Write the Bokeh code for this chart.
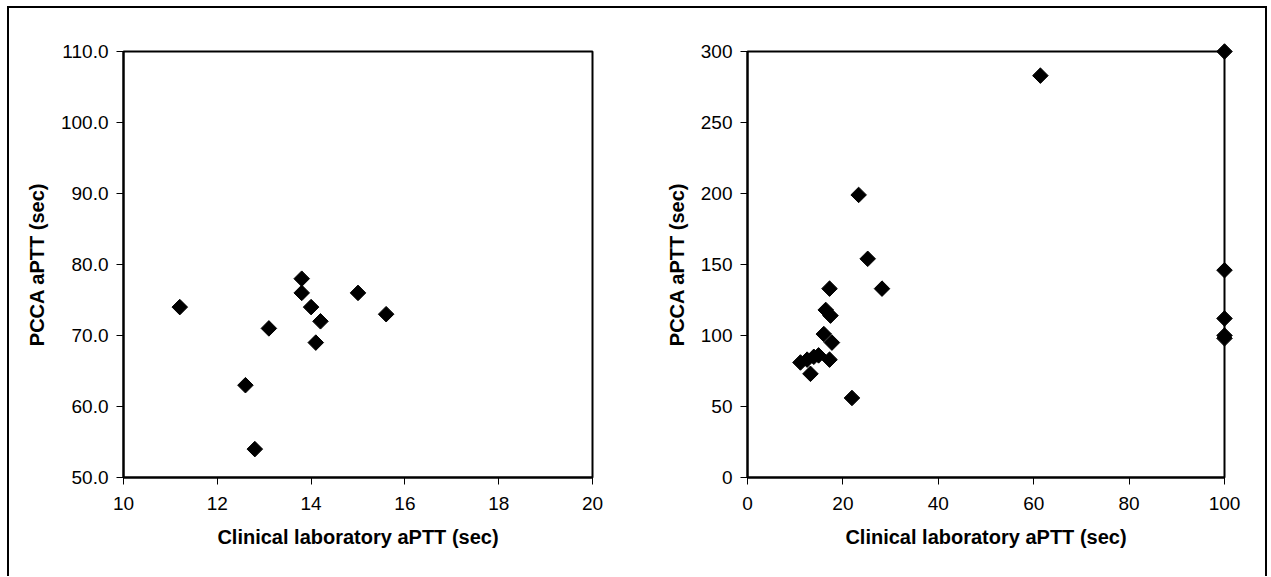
import numpy as np
from bokeh.plotting import figure
from bokeh.layouts import row
from bokeh.models import FixedTicker, NumeralTickFormatter, Range1d
from bokeh.embed import file_html
from bokeh.resources import INLINE

# ---- data ----
left_x = [11.2, 12.6, 12.8, 13.1, 13.8, 13.8, 14.0, 14.1, 14.2, 15.0, 15.6]
left_y = [74, 63, 54, 71, 78, 76, 74, 69, 72, 76, 73]
left_xticks = [10, 12, 14, 16, 18, 20]
left_yticks = [50, 60, 70, 80, 90, 100, 110]

right_x = [11.1, 12.5, 13.2, 13.9, 14.9, 17.2, 16.0, 17.7, 16.4, 17.4, 17.2,
           21.9, 23.3, 25.2, 28.2, 61.4, 100, 100, 100, 100, 100]
right_y = [81, 83, 73, 85, 86, 83, 101, 95, 118, 114, 133,
           56, 199, 154, 133, 283, 300, 146, 112, 100, 98]
right_xticks = [0, 20, 40, 60, 80, 100]
right_yticks = [0, 50, 100, 150, 200, 250, 300]

x_title = "Clinical laboratory aPTT (sec)"
y_title = "PCCA aPTT (sec)"

FONT = "Liberation Sans"


def make_fig(xs, ys, xticks, yticks, yfmt, width, height, borders):
    p = figure(width=width, height=height, output_backend="svg",
               toolbar_location=None,
               x_range=Range1d(xticks[0], xticks[-1]),
               y_range=Range1d(yticks[0], yticks[-1]),
               min_border_left=borders[0], min_border_right=borders[1],
               min_border_top=borders[2], min_border_bottom=borders[3])
    p.background_fill_color = "white"
    p.border_fill_color = "white"
    p.outline_line_color = "black"
    p.outline_line_width = 2
    p.xgrid.visible = False
    p.ygrid.visible = False
    p.xaxis.ticker = FixedTicker(ticks=xticks)
    p.yaxis.ticker = FixedTicker(ticks=yticks)
    p.yaxis.formatter = NumeralTickFormatter(format=yfmt)
    for ax in (p.xaxis[0], p.yaxis[0]):
        ax.axis_line_color = "black"
        ax.axis_line_width = 2
        ax.major_tick_line_color = "black"
        ax.major_tick_line_width = 1
        ax.major_tick_out = 7
        ax.major_tick_in = 0
        ax.minor_tick_line_color = None
        ax.major_label_text_font = FONT
        ax.major_label_text_font_size = "19px"
        ax.major_label_text_color = "black"
        ax.axis_label_text_font = FONT
        ax.axis_label_text_font_size = "20px"
        ax.axis_label_text_font_style = "bold"
        ax.axis_label_text_color = "black"
    p.xaxis.axis_label = x_title
    p.yaxis.axis_label = y_title
    p.xaxis.major_label_standoff = 12
    p.xaxis.axis_label_standoff = 13
    p.yaxis.major_label_standoff = 8
    p.yaxis.axis_label_standoff = 10
    r = p.scatter(xs, ys, marker="square", angle=np.pi / 4, size=11,
                  fill_color="black", line_color="black")
    r.level = "overlay"
    return p


p1 = make_fig(left_x, left_y, left_xticks, left_yticks, "0.0",
              631, 568, (114, 48, 43, 99))
p2 = make_fig(right_x, right_y, right_xticks, right_yticks, "0",
              625, 568, (107, 41, 40, 98))

layout = row(p1, p2, styles={"border-left": "2px solid black",
                             "border-top": "2px solid black",
                             "border-right": "2px solid black",
                             "margin-left": "7px",
                             "margin-top": "6px",
                             "background": "white"})

open("out.html", "w").write(file_html(layout, INLINE))
